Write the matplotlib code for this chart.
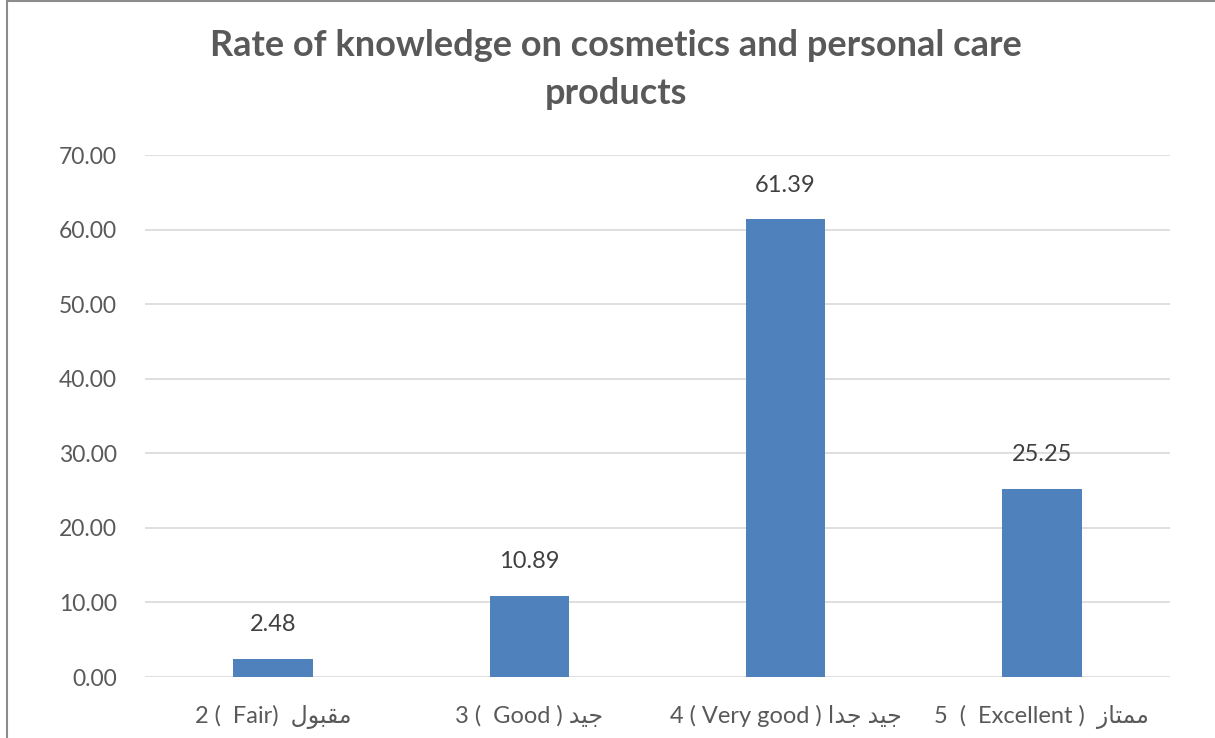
import matplotlib
matplotlib.use("Agg")
import matplotlib.pyplot as plt
from matplotlib.patches import Rectangle

# Category labels (Arabic written in visual order with contextual presentation forms)
categories = [
    "2 (  Fair)  \uFEDD\uFEEE\uFE92\uFED8\uFEE3",
    "3 (  Good ) \uFEAA\uFEF4\uFE9F",
    "4 ( Very good ) \uFE8D\uFEAA\uFE9F \uFEAA\uFEF4\uFE9F",
    "5  (  Excellent )  \uFEAF\uFE8E\uFE98\uFEE4\uFEE3",
]
values = [2.48, 10.89, 61.39, 25.25]
yticks = [0, 10, 20, 30, 40, 50, 60, 70]
title_lines = ["Rate of knowledge on cosmetics and personal care", "products"]

BAR = "#4F81BD"
GRID = "#D9D9D9"
TXT = "#595959"
LBL = "#404040"
FONTS = ["Lato", "DejaVu Sans"]

fig = plt.figure(figsize=(12.15, 7.38), dpi=100)
ax = fig.add_axes([145 / 1215, 1 - 677 / 738, 1025 / 1215, 522 / 738])

x = list(range(len(categories)))
ax.bar(x, values, width=0.31, color=BAR, zorder=3)
ax.set_xlim(-0.5, len(categories) - 0.5)
ax.set_ylim(0, 70)

ax.set_yticks(yticks)
ax.set_yticklabels([f"{v:.2f}" for v in yticks], fontsize=16.5, color=TXT, family=FONTS)
ax.set_xticks(x)
ax.set_xticklabels(categories, fontsize=17, color=TXT, family=FONTS)
ax.tick_params(axis="both", length=0)
ax.tick_params(axis="y", pad=20)
ax.tick_params(axis="x", pad=20)

ax.grid(axis="y", color=GRID, linewidth=1.2, zorder=0)
for s in ax.spines.values():
    s.set_visible(False)

for xi, v in zip(x, values):
    ax.annotate(f"{v:.2f}", (xi, v), xytext=(0, 17), textcoords="offset points",
                ha="center", va="bottom", fontsize=17, color=LBL, family=FONTS)

fig.text(616 / 1215, 1 - 45 / 738, title_lines[0], ha="center", va="center",
         fontsize=26, fontweight="bold", color=TXT, family=FONTS)
fig.text(616 / 1215, 1 - 93 / 738, title_lines[1], ha="center", va="center",
         fontsize=26, fontweight="bold", color=TXT, family=FONTS)

# chart area border
fig.patches.append(Rectangle((6.5 / 1215, -0.05), 1.2, 1.05 - 1 / 738,
                             transform=fig.transFigure, fill=False,
                             edgecolor="#8C8C8C", linewidth=1.5))

fig.savefig("out.png", dpi=100, facecolor="white")
